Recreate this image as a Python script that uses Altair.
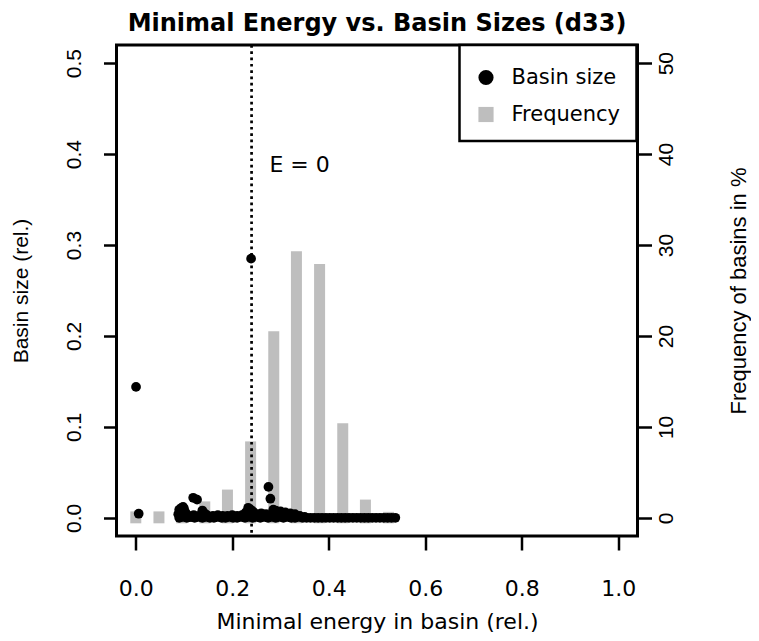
import altair as alt
import pandas as pd

# ---------------- data ----------------
# histogram of minimal energies (frequency in %)
bin_energy = [0.0, 0.048, 0.095, 0.143, 0.19, 0.238, 0.286, 0.333, 0.381, 0.429, 0.476, 0.524]
bin_freq = [0.1, 0.1, 0.5, 1.2, 2.5, 7.8, 19.9, 28.7, 27.3, 9.8, 1.4, 0.05]

# basin sizes (relative) vs minimal energy
pt_energy = [
    0.0005, 0.006, 0.239, 0.275, 0.279, 0.119, 0.127,
    0.088, 0.090, 0.093, 0.095, 0.098, 0.100, 0.103, 0.106, 0.110, 0.114, 0.138, 0.145,
    0.228, 0.233, 0.238, 0.243, 0.250,
    0.260, 0.270, 0.285, 0.290, 0.300, 0.310, 0.320, 0.330, 0.340, 0.350,
    0.120, 0.130, 0.150, 0.160, 0.170, 0.180, 0.190, 0.200, 0.210, 0.220,
    0.090, 0.098, 0.106, 0.114, 0.122, 0.130, 0.138, 0.146, 0.154, 0.162,
    0.170, 0.178, 0.186, 0.194, 0.202, 0.210, 0.218, 0.226, 0.234, 0.242,
    0.250, 0.258, 0.266, 0.274, 0.282, 0.290, 0.298, 0.306, 0.314, 0.322,
    0.330, 0.338, 0.346, 0.354, 0.362, 0.370, 0.378, 0.386, 0.394, 0.402,
    0.410, 0.418, 0.426, 0.434, 0.442, 0.450, 0.458, 0.466, 0.474, 0.482,
    0.490, 0.498, 0.506, 0.514, 0.522, 0.530, 0.538,
]
pt_size = [
    0.144, 0.0045, 0.285, 0.034, 0.021, 0.022, 0.020,
    0.004, 0.009, 0.001, 0.011, 0.012, 0.010, 0.006, 0.003, 0.002, 0.001, 0.008, 0.004,
    0.006, 0.011, 0.009, 0.007, 0.004,
    0.005, 0.004, 0.009, 0.008, 0.007, 0.006, 0.005, 0.004, 0.002, 0.001,
    0.003, 0.002, 0.002, 0.002, 0.003, 0.002, 0.002, 0.003, 0.002, 0.003,
    0.000, 0.001, 0.000, 0.001, 0.000, 0.001, 0.000, 0.001, 0.000, 0.000,
    0.001, 0.000, 0.000, 0.001, 0.000, 0.000, 0.001, 0.000, 0.001, 0.000,
    0.001, 0.000, 0.001, 0.000, 0.001, 0.000, 0.001, 0.000, 0.001, 0.000,
    0.000, 0.001, 0.000, 0.000, 0.000, 0.000, 0.000, 0.000, 0.000, 0.000,
    0.000, 0.000, 0.000, 0.000, 0.000, 0.000, 0.000, 0.000, 0.000, 0.000,
    0.000, 0.000, 0.000, 0.000, 0.000, 0.000, 0.000,
]

series_names = ["Basin size", "Frequency"]
series_colors = ["black", "#BEBEBE"]
series_shapes = ["circle", "square"]

e_zero_line = [0.24]
note_x = [0.277]
note_y = [0.38]
note_text = ["E = 0"]

x_ticks = [0.0, 0.2, 0.4, 0.6, 0.8, 1.0]
y_ticks = [0.0, 0.1, 0.2, 0.3, 0.4, 0.5]
f_ticks = [0, 10, 20, 30, 40, 50]

# ---------------- tables ----------------
bars_df = pd.DataFrame({"energy": bin_energy, "freq": bin_freq, "zero": [0.0] * len(bin_energy)})
pts_df = pd.DataFrame({"energy": pt_energy, "size": pt_size, "series": ["Basin size"] * len(pt_energy)})
line_df = pd.DataFrame({"energy": e_zero_line})
note_df = pd.DataFrame({"energy": note_x, "size": note_y, "text": note_text})

# ---------------- scales & axes ----------------
x_scale = alt.Scale(domain=[-0.04, 1.04], nice=False, zero=False)
y_scale = alt.Scale(domain=[-0.02, 0.52], nice=False, zero=False)
f_scale = alt.Scale(domain=[-2, 52], nice=False, zero=False)

HF = "DejaVu Sans"
VF = "Liberation Sans"

x_axis = alt.Axis(
    values=x_ticks, format=".1f", title="Minimal energy in basin (rel.)",
    grid=False, domain=False, tickSize=14, tickWidth=2.5, tickColor="black",
    labelFont=HF, labelFontSize=22, labelColor="black", labelAngle=0,
    labelAlign="center", labelBaseline="alphabetic", labelPadding=45,
    labelFlush=False, labelOverlap=False,
    titleFont=HF, titleFontSize=22, titleFontWeight="normal", titleColor="black",
    titleBaseline="alphabetic", titleY=92,
)
y_axis = alt.Axis(
    values=y_ticks, format=".1f", title="Basin size (rel.)", orient="left",
    grid=False, domain=False, tickSize=13, tickWidth=2.5, tickColor="black",
    labelFont=VF, labelFontSize=21, labelColor="black", labelAngle=270,
    labelAlign="center", labelBaseline="alphabetic", labelPadding=23.5,
    labelFlush=False, labelOverlap=False,
    titleFont=VF, titleFontSize=21, titleFontWeight="normal", titleColor="black",
    titleAngle=270, titleBaseline="alphabetic", titleX=-89,
)
f_axis = alt.Axis(
    values=f_ticks, format="d", title="Frequency of basins in %", orient="right",
    grid=False, domain=False, tickSize=14, tickWidth=2.5, tickColor="black",
    labelFont=VF, labelFontSize=21, labelColor="black", labelAngle=270,
    labelAlign="center", labelBaseline="alphabetic", labelPadding=20.5,
    labelFlush=False, labelOverlap=False,
    titleFont=VF, titleFontSize=22, titleFontWeight="normal", titleColor="black",
    titleAngle=270, titleBaseline="alphabetic", titleX=108,
)

X = alt.X("energy:Q", scale=x_scale, axis=x_axis)

bars = alt.Chart(bars_df).mark_rule(
    color="#BEBEBE", strokeWidth=11, strokeCap="square"
).encode(
    x=X,
    y=alt.Y("zero:Q", scale=f_scale, axis=f_axis),
    y2="freq:Q",
)

vline = alt.Chart(line_df).mark_rule(
    color="black", strokeWidth=2.7, strokeDash=[2.7, 3.6], strokeCap="butt"
).encode(x=X)

points = alt.Chart(pts_df).mark_point(filled=True, size=95, opacity=1, strokeWidth=0).encode(
    x=X,
    y=alt.Y("size:Q", scale=y_scale, axis=y_axis),
    color=alt.Color("series:N", scale=alt.Scale(domain=series_names, range=series_colors),
                    legend=alt.Legend(title=" ")),
    shape=alt.Shape("series:N", scale=alt.Scale(domain=series_names, range=series_shapes),
                    legend=alt.Legend(title=" ")),
)

note = alt.Chart(note_df).mark_text(
    align="left", baseline="alphabetic", font=HF, fontSize=22, color="black"
).encode(
    x=X,
    y=alt.Y("size:Q", scale=y_scale, axis=y_axis),
    text="text:N",
)

left = alt.layer(vline, points, note)

chart = alt.layer(bars, left).resolve_scale(y="independent").properties(
    width=521,
    height=491,
    autosize=alt.AutoSizeParams(type="none"),
    padding={"left": 108.5, "top": 37, "right": 113.5, "bottom": 97},
    title=alt.TitleParams(
        "Minimal Energy vs. Basin Sizes (d33)", font=HF, fontSize=24, fontWeight="bold",
        color="black", anchor="middle", frame="group", offset=8,
    ),
).configure_view(
    stroke="black", strokeWidth=3
).configure_legend(
    orient="none", legendX=343, legendY=0,
    strokeColor="black", strokeWidth=2.5, fillColor="white",
    padding=16, rowPadding=15, labelOffset=15,
    titleFontSize=5, titlePadding=1,
    symbolSize=230, symbolStrokeWidth=0,
    labelFont=HF, labelFontSize=21, labelColor="black",
)

chart.save("out.html", embed_options={"renderer": "svg", "actions": False})
